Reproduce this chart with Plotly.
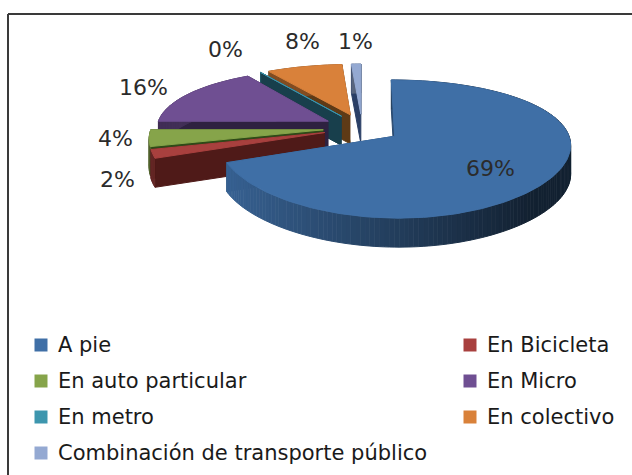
import numpy as np
import plotly.graph_objects as go

categories = ["A pie", "En Bicicleta", "En auto particular", "En Micro", "En metro",
              "En colectivo", "Combinación de transporte público"]
values = [69, 2, 4, 16, 0, 8, 1]
top_colors = ["#3f6fa6", "#a8403e", "#86a44a", "#6f4f92", "#3d96ae", "#d9813a", "#94a9d2"]
wall_colors = ["#2a4a70", "#4f1a18", "#2f4a18", "#2e2140", "#183f4c", "#5e3a16", "#2a3f66"]
label_text = ["69%", "2%", "4%", "16%", "0%", "8%", "1%"]

# projection of the exploded pie (pixel-based scene)
CX, CY, BX, AY, DX, DY, EXPL, DEPTH = 362, 128, 172, 63.7, 9.0, 5.54, 0.226, 29


def proj(X, Y, z=0.0):
    return CX + BX * X / (1 + Y / DX), CY - AY * Y / (1 + Y / DY) + z * DEPTH


def slice_geom(start, end):
    mid = (start + end) / 2
    ax, ay = EXPL * np.sin(mid), EXPL * np.cos(mid)
    th = np.linspace(start, end, max(2, int((end - start) * 40) + 2))
    return ax, ay, ax + np.sin(th), ay + np.cos(th)


def poly(fig, xs, ys, color):
    fig.add_trace(go.Scatter(x=list(xs), y=list(ys), mode="lines", fill="toself", fillcolor=color,
                             line=dict(color=color, width=1), hoverinfo="skip", showlegend=False))


def shade(hex_color, f):
    r, g, b = (int(hex_color[i:i + 2], 16) for i in (1, 3, 5))
    return f"rgb({int(r * f)},{int(g * f)},{int(b * f)})"


fig = go.Figure()
total = sum(values)
edges = np.cumsum([0] + values) / total * 2 * np.pi
draw_order = [6, 5, 4, 3, 2, 1, 0]
for i in draw_order:
    start, end = edges[i], edges[i + 1]
    ax, ay, Xs, Ys = slice_geom(start, end)
    # radial walls
    for X_e, Y_e in ((Xs[-1], Ys[-1]), (Xs[0], Ys[0])):
        p0 = proj(ax, ay); p1 = proj(X_e, Y_e); q1 = proj(X_e, Y_e, 1); q0 = proj(ax, ay, 1)
        poly(fig, [p0[0], p1[0], q1[0], q0[0]], [p0[1], p1[1], q1[1], q0[1]], wall_colors[i])
    # outer wall, split so that it can darken along the arc
    n = len(Xs)
    for j in range(n - 1):
        a = proj(Xs[j:j + 2], Ys[j:j + 2])
        b = proj(Xs[j:j + 2], Ys[j:j + 2], 1)
        light = float(np.clip(0.62 - 0.36 * Xs[j], 0.3, 0.95)) if i == 0 else 0.6
        poly(fig, np.r_[a[0], b[0][::-1]], np.r_[a[1], b[1][::-1]], shade(top_colors[i], light))
    # top face
    tx, ty = proj(np.r_[ax, Xs, ax], np.r_[ay, Ys, ay])
    poly(fig, tx, ty, top_colors[i])

# percentage labels placed from each slice's direction, then nudged
label_dist = [0.42, 1.40, 1.40, 1.30, 1.30, 1.30, 1.30]
label_nudge = [(33, 16), (37, 16), (37, -3), (-6, 1), (-13, -12), (10, -13), (1, -10)]
for i, txt in enumerate(label_text):
    start, end = edges[i], edges[i + 1]
    mid = (start + end) / 2
    ax, ay = EXPL * np.sin(mid), EXPL * np.cos(mid)
    lx, ly = proj(ax + label_dist[i] * np.sin(mid), ay + label_dist[i] * np.cos(mid))
    fig.add_annotation(x=lx, y=ly, text=txt, showarrow=False, xshift=label_nudge[i][0], yshift=-label_nudge[i][1],
                       font=dict(family="DejaVu Sans", size=22, color="#2b2b2b"))

# legend, two columns
col_x = [41, 470]
row_y = [345, 381, 417, 453]
for i, name in enumerate(categories):
    x = col_x[i % 2]
    y = row_y[i // 2]
    fig.add_trace(go.Scatter(x=[x], y=[y], mode="markers", hoverinfo="skip", showlegend=False,
                             marker=dict(symbol="square", size=13, color=top_colors[i])))
    fig.add_annotation(x=x + 15, y=y, text=name, showarrow=False, xanchor="left",
                       font=dict(family="DejaVu Sans", size=21, color="#1a1a1a"))

fig.add_shape(type="line", x0=8, x1=632, y0=14, y1=14, line=dict(color="#3a3a3a", width=2))
fig.add_shape(type="line", x0=8, x1=8, y0=14, y1=475, line=dict(color="#3a3a3a", width=2))
fig.update_layout(width=632, height=475, margin=dict(l=0, r=0, t=0, b=0), paper_bgcolor="white",
                  plot_bgcolor="white", showlegend=False,
                  xaxis=dict(range=[0, 632], visible=False, fixedrange=True),
                  yaxis=dict(range=[475, 0], visible=False, fixedrange=True))
fig.write_html("out.html", post_script="document.body.style.margin='0';",
               config={"displayModeBar": False})
